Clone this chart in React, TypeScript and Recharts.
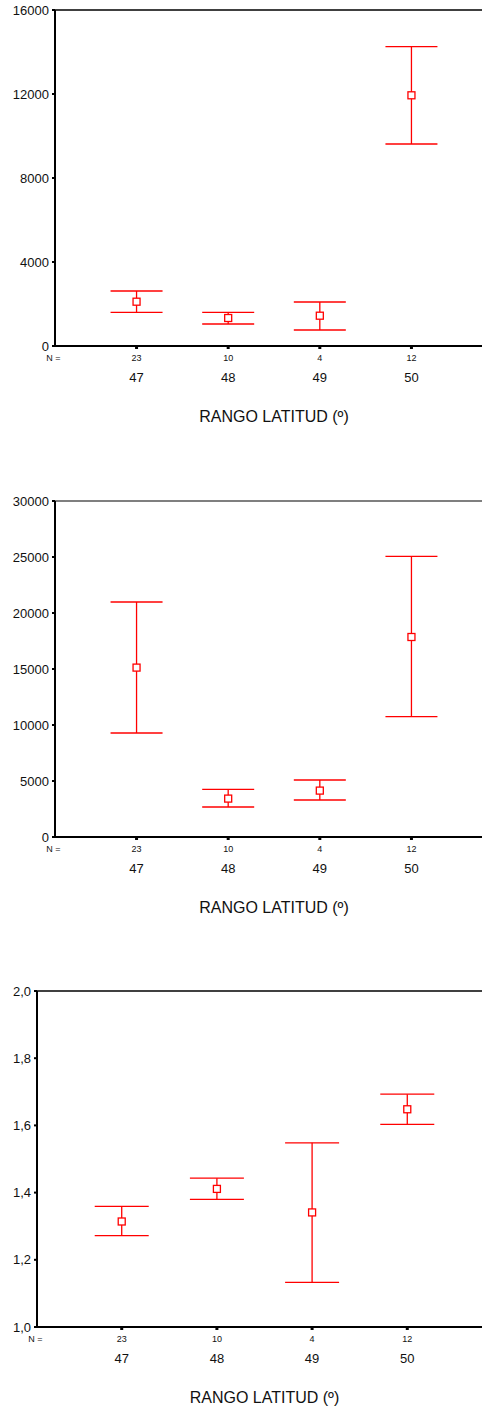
import React from 'react';
import { ScatterChart, Scatter, XAxis, YAxis, ErrorBar, ReferenceLine } from 'recharts';

// latitude bands and group sizes (same for the three panels)
const categories = [47, 48, 49, 50];
const counts = [23, 10, 4, 12];
const xTitle = 'RANGO LATITUD (º)';

// panel 1
const meanA = [2110, 1333, 1443, 11938];
const lowA = [1605, 1048, 762, 9619];
const highA = [2619, 1605, 2095, 14253];
const ticksA = [0, 4000, 8000, 12000, 16000];

// panel 2
const meanB = [15125, 3429, 4143, 17857];
const lowB = [9286, 2679, 3304, 10750];
const highB = [20982, 4259, 5089, 25063];
const ticksB = [0, 5000, 10000, 15000, 20000, 25000, 30000];

// panel 3
const meanC = [1.314, 1.411, 1.341, 1.648];
const lowC = [1.272, 1.38, 1.133, 1.603];
const highC = [1.359, 1.443, 1.548, 1.693];
const ticksC = [1.0, 1.2, 1.4, 1.6, 1.8, 2.0];

const FONT = '"Liberation Sans", Arial, sans-serif';
const RED = '#ff0000';
const INK = '#111';

const buildRows = (mean: number[], low: number[], high: number[]) =>
  categories.map((c, i) => ({ x: c, y: mean[i], err: [mean[i] - low[i], high[i] - mean[i]] }));

const Marker = (props: any) => (
  <rect
    x={props.cx - 3.5}
    y={props.cy - 3.5}
    width={7}
    height={7}
    fill="#fff"
    stroke={RED}
    strokeWidth={1.3}
  />
);

const CatTick = (props: any) => {
  const { x, y, payload } = props;
  const i = categories.indexOf(payload.value);
  return (
    <g fontFamily={FONT} fill={INK}>
      <text x={x} y={y + 9} dy="0.35em" textAnchor="middle" fontSize={9}>
        {counts[i]}
      </text>
      <text x={x} y={y + 28.5} dy="0.35em" textAnchor="middle" fontSize={13}>
        {payload.value}
      </text>
    </g>
  );
};

const AxisTitle = (props: any) => {
  const vb = props.viewBox || { x: 0, y: 0, width: 0 };
  return (
    <g fontFamily={FONT} fill={INK}>
      <text x={vb.x - 1.5} y={vb.y + 12} dy="0.35em" textAnchor="middle" fontSize={9}>
        N =
      </text>
      <text x={vb.x + vb.width / 2} y={vb.y + 70} dy="0.35em" textAnchor="middle" fontSize={16}>
        {xTitle}
      </text>
    </g>
  );
};

interface PanelProps {
  top: number;
  axisWidth: number;
  plotWidth: number;
  mean: number[];
  low: number[];
  high: number[];
  ticks: number[];
  decimals: number;
  cap: number;
  topStroke: string;
}

const Panel: React.FC<PanelProps> = ({ top, axisWidth, plotWidth, mean, low, high, ticks, decimals, cap, topStroke }) => {
  const rows = buildRows(mean, low, high);
  const yMin = ticks[0];
  const yMax = ticks[ticks.length - 1];
  return (
    <div style={{ position: 'absolute', left: 0, top }}>
      <ScatterChart
        width={axisWidth + plotWidth}
        height={436}
        margin={{ top: 10, right: 0, bottom: 0, left: 0 }}
      >
        <XAxis
          type="number"
          dataKey="x"
          domain={[46.11, 50.89]}
          ticks={categories}
          interval={0}
          height={90}
          tick={<CatTick />}
          tickSize={3}
          tickMargin={0}
          tickLine={{ stroke: '#000', strokeWidth: 3 }}
          axisLine={{ stroke: '#000', strokeWidth: 2 }}
          label={<AxisTitle />}
        />
        <YAxis
          type="number"
          dataKey="y"
          domain={[yMin, yMax]}
          ticks={ticks}
          interval={0}
          width={axisWidth}
          tickFormatter={(v: number) => (decimals ? v.toFixed(decimals).replace('.', ',') : String(v))}
          tick={{ fontSize: 13, fill: INK, fontFamily: FONT }}
          tickSize={3}
          tickMargin={3}
          tickLine={{ stroke: '#000', strokeWidth: 2 }}
          axisLine={{ stroke: '#000', strokeWidth: 2 }}
        />
        <ReferenceLine y={yMax} stroke={topStroke} strokeWidth={1.5} />
        <Scatter data={rows} dataKey="y" shape={Marker} isAnimationActive={false}>
          <ErrorBar dataKey="err" direction="y" width={cap} stroke={RED} strokeWidth={1.3} isAnimationActive={false} />
        </Scatter>
      </ScatterChart>
    </div>
  );
};

const App: React.FC = () => (
  <div
    style={{
      position: 'absolute',
      left: 0,
      top: 0,
      width: 482,
      height: 1410,
      overflow: 'hidden',
      background: '#fff',
    }}
  >
    <Panel top={0} axisWidth={55} plotWidth={438} mean={meanA} low={lowA} high={highA} ticks={ticksA} decimals={0} cap={26} topStroke="#000" />
    <Panel top={491} axisWidth={55} plotWidth={438} mean={meanB} low={lowB} high={highB} ticks={ticksB} decimals={0} cap={26} topStroke="#555" />
    <Panel top={981} axisWidth={37} plotWidth={455} mean={meanC} low={lowC} high={highC} ticks={ticksC} decimals={1} cap={27} topStroke="#000" />
  </div>
);

export default App;
